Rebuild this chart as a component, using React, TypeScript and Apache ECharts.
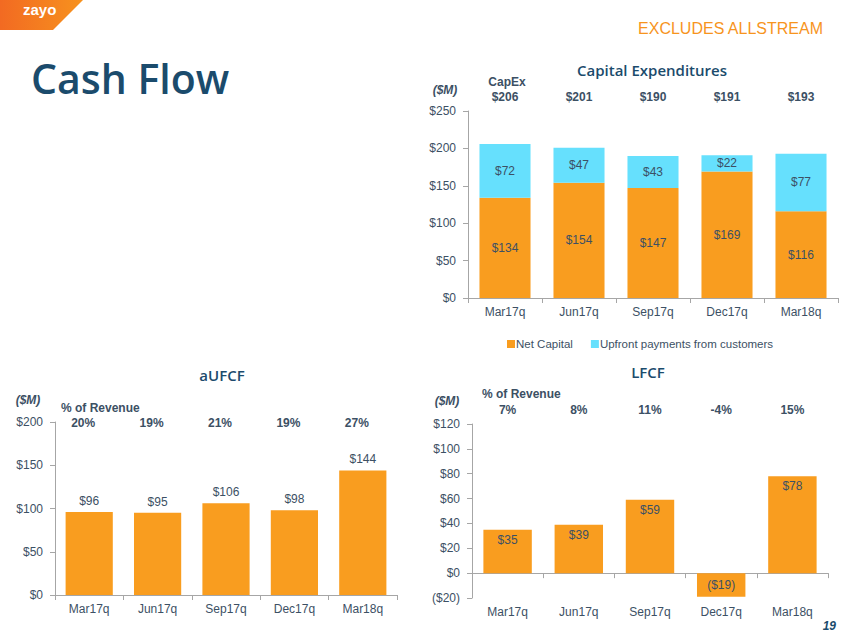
import React, { useEffect, useRef } from "react";
import * as echarts from "echarts";

const categories = ["Mar17q", "Jun17q", "Sep17q", "Dec17q", "Mar18q"];
const netCapital = [134, 154, 147, 169, 116];
const upfrontPayments = [72, 47, 43, 22, 77];
const capexTotals = [206, 201, 190, 191, 193];
const aufcfValues = [96, 95, 106, 98, 144];
const aufcfPct = ["20%", "19%", "21%", "19%", "27%"];
const lfcfValues = [35, 39, 59, -19, 78];
const lfcfPct = ["7%", "8%", "11%", "-4%", "15%"];

const ORANGE = "#F99D1F";
const CYAN = "#66E0FD";
const TEXT = "#3C5064";
const NAVY = "#1B4B6C";
const AXIS = "#A6A6A6";
const FONT = "Liberation Sans, Arial, sans-serif";
const TITLE_FONT = "'Open Sans', sans-serif";

const money = (v: number) => (v < 0 ? `($${Math.abs(v)})` : `$${v}`);

// grid geometry
const G0 = { left: 468, right: 838, top: 111, bottom: 298 };
const G1 = { left: 55, right: 397, top: 422, bottom: 595 };
const G2 = { left: 472, right: 828, top: 424, bottom: 598 };

const centers = (g: { left: number; right: number }) =>
  categories.map((_, i) => g.left + ((i + 0.5) * (g.right - g.left)) / categories.length);

export default function App() {
  const ref = useRef<HTMLDivElement>(null);
  useEffect(() => {
    if (!ref.current) return;
    const chart = echarts.init(ref.current, undefined, { renderer: "svg" });

    const yAxisBase = (gridIndex: number, min: number, max: number, interval: number) => ({
      type: "value",
      gridIndex,
      min,
      max,
      interval,
      splitLine: { show: false },
      axisLine: { show: true, lineStyle: { color: AXIS, width: 1 } },
      axisTick: { show: true, length: 5, lineStyle: { color: AXIS } },
      axisLabel: { color: TEXT, fontFamily: FONT, fontSize: 12, margin: 12, formatter: (v: number) => money(v) },
    });
    const xAxisBase = (gridIndex: number) => ({
      type: "category",
      gridIndex,
      position: "bottom",
      data: categories,
      axisLine: { show: true, lineStyle: { color: AXIS, width: 1 } },
      axisTick: { show: true, length: 5, lineStyle: { color: AXIS } },
      axisLabel: { color: TEXT, fontFamily: FONT, fontSize: 12, margin: 8 },
    });

    const gridOf = (g: any) => ({ left: g.left, top: g.top, width: g.right - g.left, height: g.bottom - g.top, containLabel: false });

    const labelStyle = { color: TEXT, fontFamily: FONT, fontSize: 12 };

    const texts: any[] = [];
    const addText = (text: string, x: number, y: number, opts: any = {}) =>
      texts.push({
        type: "text",
        x,
        y,
        style: {
          text,
          fill: opts.fill || TEXT,
          font: opts.font || `bold 12px ${FONT}`,
          textAlign: opts.align || "center",
          textVerticalAlign: "middle",
        },
      });

    // Logo
    texts.push({
      type: "polygon",
      shape: { points: [[0, 0], [83, 0], [53, 30], [0, 30]] },
      style: {
        fill: new echarts.graphic.LinearGradient(0, 0, 1, 0, [
          { offset: 0, color: "#F26A22" },
          { offset: 1, color: "#F7921E" },
        ]),
      },
    });
    addText("zayo", 23, 9, { fill: "#FFFFFF", font: `bold 15px ${FONT}`, align: "left" });
    addText("EXCLUDES ALLSTREAM", 823, 28, { fill: "#F7941D", font: `16px ${FONT}`, align: "right" });
    addText("Cash Flow", 31, 78, { fill: NAVY, font: `600 41px ${TITLE_FONT}`, align: "left" });
    addText("19", 836, 626, { fill: NAVY, font: `italic bold 12px ${FONT}`, align: "right" });

    // Titles
    addText("Capital Expenditures", 652, 70, { fill: NAVY, font: `600 15px ${TITLE_FONT}` });
    addText("aUFCF", 222, 375, { fill: NAVY, font: `600 15px ${TITLE_FONT}` });
    addText("LFCF", 648, 372, { fill: NAVY, font: `600 15px ${TITLE_FONT}` });

    // CapEx header
    addText("($M)", 445, 90, { font: `italic bold 12px ${FONT}` });
    addText("CapEx", 507, 82);
    centers(G0).forEach((x, i) => addText(money(capexTotals[i]), x, 97));

    // aUFCF header
    addText("($M)", 28, 400, { font: `italic bold 12px ${FONT}` });
    addText("% of Revenue", 61, 408, { align: "left" });
    centers(G1).forEach((x, i) => addText(aufcfPct[i], x - 6, 423));

    // LFCF header
    addText("($M)", 447, 401, { font: `italic bold 12px ${FONT}` });
    addText("% of Revenue", 482, 394, { align: "left" });
    centers(G2).forEach((x, i) => addText(lfcfPct[i], x, 410));

    const option: any = {
      animation: false,
      backgroundColor: "#FFFFFF",
      textStyle: { fontFamily: FONT },
      grid: [gridOf(G0), gridOf(G1), gridOf(G2)],
      legend: {
        left: 502,
        top: 333,
        icon: "rect",
        itemWidth: 8,
        itemHeight: 8,
        itemGap: 18,
        textStyle: { color: TEXT, fontFamily: FONT, fontSize: 11.5, padding: [0, 0, 0, -4] },
        data: ["Net Capital", "Upfront payments from customers"],
      },
      xAxis: [
        xAxisBase(0),
        xAxisBase(1),
        { ...xAxisBase(2), axisLabel: { show: false }, axisLine: { show: true, onZero: true, lineStyle: { color: AXIS } } },
        { ...xAxisBase(2), axisLine: { show: false, onZero: false }, axisTick: { show: false } },
      ],
      yAxis: [yAxisBase(0, 0, 250, 50), yAxisBase(1, 0, 200, 50), yAxisBase(2, -20, 120, 20)],
      series: [
        {
          name: "Net Capital",
          type: "bar",
          stack: "capex",
          xAxisIndex: 0,
          yAxisIndex: 0,
          barCategoryGap: "31%",
          data: netCapital,
          itemStyle: { color: ORANGE },
          label: { show: true, position: "inside", ...labelStyle, formatter: (p: any) => money(p.value) },
        },
        {
          name: "Upfront payments from customers",
          type: "bar",
          stack: "capex",
          xAxisIndex: 0,
          yAxisIndex: 0,
          barCategoryGap: "31%",
          data: upfrontPayments,
          itemStyle: { color: CYAN },
          label: { show: true, position: "inside", ...labelStyle, formatter: (p: any) => money(p.value) },
        },
        {
          name: "aUFCF",
          type: "bar",
          xAxisIndex: 1,
          yAxisIndex: 1,
          barCategoryGap: "31%",
          data: aufcfValues,
          itemStyle: { color: ORANGE },
          label: { show: true, position: "top", distance: 5, ...labelStyle, formatter: (p: any) => money(p.value) },
        },
        {
          name: "LFCF",
          type: "bar",
          xAxisIndex: 2,
          yAxisIndex: 2,
          barCategoryGap: "32%",
          data: lfcfValues.map((v) =>
            v < 0 ? { value: v, label: { position: "inside" } } : { value: v }
          ),
          itemStyle: { color: ORANGE },
          label: { show: true, position: "insideTop", distance: 4, ...labelStyle, formatter: (p: any) => money(p.value) },
        },
      ],
      graphic: texts,
    };
    chart.setOption(option);
    return () => chart.dispose();
  }, []);

  return (
    <div
      ref={ref}
      style={{ position: "fixed", left: 0, top: 0, width: 847, height: 635, background: "#fff" }}
    />
  );
}
